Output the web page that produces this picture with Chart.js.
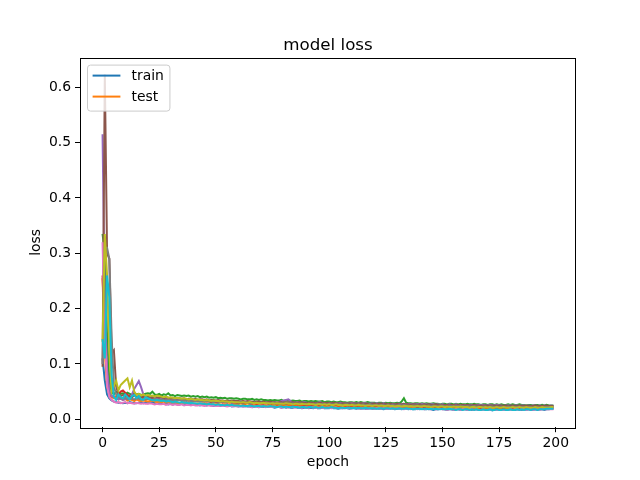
<!DOCTYPE html>
<html>
<head>
<meta charset="utf-8">
<script src="https://cdn.jsdelivr.net/npm/chart.js@4/dist/chart.umd.min.js"></script>
<style>
    html, body { margin: 0; padding: 0; background: #fff; }
    canvas { display: block; }
</style>
</head>
<body>
<canvas id="chartLoss" width="640" height="480"></canvas>
<script>
const epochs = Array.from({ length: 200 }, (_, i) => i);
const xTicks = [0, 25, 50, 75, 100, 125, 150, 175, 200];
const yTicks = [0, 0.1, 0.2, 0.3, 0.4, 0.5, 0.6];
const legendLabels = ["train", "test"];
const colors = ["#1f77b4", "#ff7f0e", "#2ca02c", "#d62728", "#9467bd", "#8c564b", "#e377c2", "#7f7f7f", "#bcbd22", "#17becf"];

/* loss values per run, in thousandths, epochs 0..199 */
const lossBlue = [
    110,70,45,38,34,32,31,30,30,29,30,29,31,30,29,29,30,31,29,30,
    29,30,31,29,28,29,28,28,29,27,28,27,28,27,27,28,26,27,27,26,
    26,27,26,25,26,26,25,26,25,24,25,25,24,25,24,24,25,23,24,24,
    23,24,23,24,23,23,22,23,23,22,23,22,22,23,22,22,21,22,22,21,
    22,21,22,21,21,22,21,21,20,21,21,20,21,20,21,20,20,21,20,20,
    20,21,20,20,19,20,20,21,20,19,20,20,19,20,19,20,19,19,20,19,
    19,20,19,19,18,19,19,20,19,18,19,19,18,19,19,18,19,18,18,19,
    18,19,18,18,19,18,17,18,18,19,18,18,17,18,18,17,18,18,17,18,
    18,17,18,17,18,18,17,17,18,17,17,18,16,17,18,17,17,18,17,17,
    18,17,17,18,17,17,18,17,18,17,17,18,17,18,18,17,18,18,19,19
];
const lossOrange = [
    255,120,60,45,40,38,42,36,38,35,37,34,36,35,33,36,34,33,34,33,
    32,33,34,32,31,32,31,32,30,31,31,30,31,30,29,30,30,29,30,29,
    29,28,29,28,28,29,28,27,28,27,27,28,27,26,27,26,27,26,26,27,
    26,25,26,26,25,26,25,25,26,25,24,25,25,24,25,24,25,24,24,25,
    24,24,25,24,23,24,24,23,24,24,23,24,23,23,24,23,23,24,23,23,
    24,23,23,22,23,23,22,23,23,22,23,22,22,23,22,22,23,22,22,21,
    22,22,21,22,22,21,22,21,22,21,21,22,21,21,22,21,21,20,21,21,
    21,20,21,21,20,21,20,21,20,21,20,20,21,20,20,21,20,20,21,20,
    20,21,20,20,19,20,20,21,20,19,20,20,20,19,20,20,19,20,20,19,
    20,20,19,20,20,19,20,20,19,20,20,19,20,20,19,20,20,20,20,20
];
const lossGreen = [
    335,300,150,70,50,45,50,48,46,47,45,48,46,44,47,45,46,44,45,46,
    47,46,50,45,44,46,43,45,44,47,43,44,42,44,43,42,43,42,43,41,
    42,41,42,40,41,40,41,39,40,39,40,38,39,38,39,37,38,38,37,38,
    37,36,37,37,36,36,37,35,36,35,36,35,35,34,35,34,35,34,34,35,
    33,34,34,33,34,33,33,34,32,33,33,32,33,32,33,32,32,33,31,32,
    32,31,32,31,31,32,31,31,30,31,31,30,31,30,31,30,30,31,30,30,
    30,29,30,30,29,30,29,30,29,29,30,29,32,38,30,29,29,28,29,29,
    28,29,28,29,28,28,29,28,28,27,28,28,27,28,28,27,28,27,28,27,
    27,28,27,27,28,27,27,26,27,27,26,27,27,26,27,26,27,26,26,27,
    26,27,26,26,27,26,26,25,26,26,25,26,26,25,26,25,26,25,25,25
];
const lossRed = [
    260,150,80,50,42,40,38,45,50,52,48,44,42,40,45,41,40,42,39,41,
    40,38,39,37,38,37,38,36,37,36,37,35,36,35,35,36,34,35,34,34,
    33,34,33,33,32,33,32,32,31,32,31,31,32,30,31,30,31,30,30,30,
    29,30,29,29,30,29,28,29,28,29,28,28,29,28,27,28,28,27,28,27,
    27,28,27,27,26,27,27,26,27,26,26,27,26,26,27,26,25,26,26,25,
    26,26,25,26,25,25,26,25,25,24,25,25,24,25,25,24,25,24,24,25,
    24,24,25,24,23,24,24,23,24,24,23,24,23,24,23,23,24,23,23,22,
    23,23,22,23,23,22,23,22,23,22,22,23,22,22,23,22,22,21,22,22,
    21,22,22,21,22,21,22,21,21,22,21,21,22,21,21,21,20,21,21,21,
    21,20,21,21,20,21,21,20,21,20,21,21,20,21,20,21,20,21,21,21
];
const lossPurple = [
    515,200,90,50,42,40,38,36,37,35,36,38,37,45,55,62,69,58,45,40,
    41,39,42,40,38,39,37,39,38,36,38,37,36,37,36,35,36,35,35,36,
    34,35,34,35,34,33,34,33,34,33,33,32,33,32,33,32,32,33,31,32,
    32,31,32,31,31,32,31,30,31,31,30,31,30,31,30,30,31,30,31,33,
    34,35,36,33,31,30,31,30,30,31,30,29,30,30,29,30,31,29,30,29,
    30,29,30,29,29,30,29,29,28,29,30,29,28,29,28,29,29,28,28,29,
    28,29,28,28,29,28,27,28,28,27,28,28,27,28,27,28,27,27,28,27,
    27,28,27,27,26,27,27,26,27,26,27,26,26,27,26,26,27,26,26,25,
    26,26,25,26,26,25,26,25,26,25,25,26,25,25,26,25,25,24,25,25,
    25,24,25,25,24,25,25,24,25,24,25,25,24,25,24,25,24,24,25,24
];
const lossBrown = [
    95,623,300,290,120,125,60,45,42,44,40,42,41,40,43,41,42,40,41,42,
    40,41,39,42,40,39,41,38,40,39,38,39,38,37,38,37,38,36,37,37,
    36,37,35,36,36,35,36,34,35,35,34,35,34,34,33,34,33,34,33,33,
    33,32,33,32,33,32,32,31,32,32,31,32,31,31,32,31,31,30,31,31,
    30,31,31,30,31,30,30,31,30,30,29,30,30,29,30,29,30,29,29,30,
    29,29,30,29,29,28,29,29,28,29,28,29,28,28,29,28,28,28,27,28,
    28,27,28,28,27,28,27,28,27,27,28,27,27,28,27,27,26,27,27,26,
    27,26,27,26,27,26,26,27,26,26,25,26,26,25,26,26,25,26,25,26,
    25,26,25,25,26,25,25,24,25,25,24,25,25,24,25,24,25,24,25,24,
    24,25,24,24,25,24,24,25,24,24,24,25,24,24,24,24,25,24,24,24
];
const lossPink = [
    320,150,60,40,35,32,30,31,29,30,31,29,30,29,28,30,29,28,29,28,
    28,29,28,27,28,27,27,28,26,27,27,26,27,26,26,27,25,26,26,25,
    26,25,25,26,25,24,25,25,24,25,24,24,25,24,24,23,24,24,23,24,
    23,24,23,23,24,23,22,23,23,22,23,23,22,23,22,22,23,22,22,21,
    22,22,21,22,22,21,22,21,21,22,21,21,22,21,21,20,21,21,20,21,
    21,20,21,21,20,21,20,20,21,20,20,21,20,20,19,20,20,19,20,20,
    19,20,20,19,20,19,19,20,19,19,20,19,19,18,19,19,18,19,19,18,
    19,19,18,19,18,18,19,18,18,19,18,18,17,18,18,17,18,18,17,18,
    18,17,18,18,17,18,17,17,18,17,17,18,17,17,17,17,17,17,17,17,
    18,17,18,18,17,18,18,17,18,18,17,18,18,17,18,18,18,18,18,18
];
const lossGray = [
    100,310,310,290,150,60,45,40,38,37,39,36,38,37,36,38,37,36,37,36,
    37,36,35,37,36,35,36,34,35,35,34,35,34,34,35,33,34,33,34,33,
    33,34,33,32,33,32,33,32,32,31,32,32,31,32,31,31,32,30,31,31,
    30,31,30,31,30,30,29,30,30,29,30,29,30,29,29,30,29,28,29,29,
    28,29,29,28,29,28,28,29,28,28,27,28,28,27,28,28,27,28,27,27,
    28,27,27,28,27,27,26,27,27,26,27,27,26,27,26,27,26,26,27,26,
    26,26,25,26,26,25,26,25,26,25,25,26,25,26,25,25,24,25,25,25,
    24,25,25,24,25,24,25,24,24,25,24,24,23,24,24,23,24,24,23,24,
    23,24,23,23,24,23,23,22,23,23,22,23,23,22,23,22,23,22,22,23,
    22,23,22,22,23,22,22,21,22,22,21,22,22,21,22,22,22,22,22,22
];
const lossOlive = [
    140,335,260,120,50,60,70,52,62,66,70,74,58,70,50,44,46,43,45,42,
    44,42,43,41,43,42,41,40,41,39,40,39,38,39,38,37,38,37,36,37,
    36,35,36,35,35,34,35,34,33,34,33,33,32,33,32,32,31,32,31,31,
    31,30,31,30,30,31,30,29,30,29,29,30,29,29,28,29,28,29,28,28,
    28,29,28,28,27,28,28,27,28,27,27,28,27,27,26,27,27,26,27,26,
    27,26,26,27,26,26,25,26,26,25,26,25,25,26,25,25,24,25,25,24,
    25,25,24,25,24,24,25,24,24,23,24,24,23,24,24,23,24,23,23,24,
    23,23,24,23,23,22,23,23,22,23,23,22,23,22,22,23,22,22,23,22,
    22,22,21,22,22,21,22,22,21,22,21,22,21,21,22,21,21,22,21,21,
    21,22,21,21,22,21,21,22,21,21,21,22,21,21,22,21,21,21,22,22
];
const lossCyan = [
    145,110,260,220,80,40,35,45,40,38,45,40,36,42,44,38,42,36,35,40,
    38,36,35,34,35,34,33,34,32,33,32,31,32,31,30,31,30,30,29,30,
    29,29,28,29,28,28,27,28,27,27,26,27,26,26,25,26,25,26,25,25,
    25,24,25,24,24,25,24,23,24,24,23,24,23,23,24,23,23,22,23,23,
    22,23,22,22,23,22,22,21,22,22,21,22,22,21,22,21,21,22,21,21,
    21,22,21,21,20,21,21,20,21,21,20,21,20,21,20,20,21,20,20,20,
    20,19,20,20,19,20,20,19,20,19,19,20,19,19,20,19,19,18,19,19,
    19,18,19,19,18,19,18,19,18,18,19,18,18,19,18,18,17,18,18,17,
    18,18,17,18,17,18,17,17,18,17,17,18,17,17,18,17,17,18,17,17,
    18,17,17,18,17,18,17,18,18,17,18,18,17,18,18,18,19,19,19,19
];

const allRuns = [lossBlue, lossOrange, lossGreen, lossRed, lossPurple, lossBrown, lossPink, lossGray, lossOlive, lossCyan];

const FONT = "'DejaVu Sans', sans-serif";

// frame, title and a matplotlib-style legend box drawn on top of the plot
const decorPlugin = {
    id: "decor",
    afterDraw(chart) {
        const ctx = chart.ctx;
        const area = chart.chartArea;
        ctx.save();

        ctx.strokeStyle = "#000";
        ctx.lineWidth = 1;
        ctx.strokeRect(Math.round(area.left) + 0.5, Math.round(area.top) + 0.5,
            Math.round(area.right - area.left) - 1, Math.round(area.bottom - area.top));

        ctx.fillStyle = "#000";
        ctx.font = `16.7px ${FONT}`;
        ctx.textAlign = "center";
        ctx.textBaseline = "alphabetic";
        ctx.fillText("model loss", (area.left + area.right) / 2, 50);

        // legend
        const bx = area.left + 7, by = area.top + 7;
        ctx.font = `13.9px ${FONT}`;
        const textW = Math.max(...legendLabels.map(t => ctx.measureText(t).width));
        const bw = 5.6 + 27.8 + 11.1 + textW + 5.6;
        const bh = 46;
        ctx.beginPath();
        ctx.roundRect(bx + 0.5, by + 0.5, bw, bh, 3);
        ctx.fillStyle = "rgba(255,255,255,0.8)";
        ctx.fill();
        ctx.strokeStyle = "#cccccc";
        ctx.lineWidth = 1;
        ctx.stroke();

        legendLabels.forEach((label, i) => {
            const rowY = by + 11 + i * 21;
            ctx.beginPath();
            ctx.moveTo(bx + 5.6, rowY);
            ctx.lineTo(bx + 5.6 + 27.8, rowY);
            ctx.strokeStyle = colors[i];
            ctx.lineWidth = 2;
            ctx.stroke();
            ctx.fillStyle = "#000";
            ctx.textAlign = "left";
            ctx.textBaseline = "middle";
            ctx.fillText(label, bx + 5.6 + 27.8 + 11.1, rowY + 1);
        });
        ctx.restore();
    }
};

Chart.defaults.color = "#000";
Chart.defaults.font.family = FONT;
Chart.defaults.font.size = 13.9;

new Chart(document.getElementById("chartLoss"), {
    type: "line",
    data: {
        datasets: allRuns.map((run, i) => ({
            label: legendLabels[i] ?? `run ${i}`,
            data: run.map((v, k) => ({ x: epochs[k], y: v / 1000 })),
            borderColor: colors[i],
            borderWidth: 2,
            pointRadius: 0,
            tension: 0,
            fill: false,
            order: allRuns.length - i
        }))
    },
    options: {
        responsive: false,
        animation: false,
        layout: {
            padding: { top: 57.6, right: 64, bottom: 0, left: 0 }
        },
        plugins: {
            legend: { display: false },
            title: { display: false },
            tooltip: { enabled: false }
        },
        scales: {
            x: {
                type: "linear",
                min: -9.95,
                max: 208.95,
                afterFit: scale => { scale.height = 52.8; },
                afterBuildTicks: scale => { scale.ticks = xTicks.map(v => ({ value: v })); },
                grid: { drawOnChartArea: false, drawTicks: true, tickLength: 5, color: "#000", lineWidth: 1 },
                border: { display: false },
                ticks: { padding: 3, maxRotation: 0, autoSkip: false, callback: v => String(v) },
                title: { display: true, text: "epoch", padding: { top: 0, bottom: 9 } }
            },
            y: {
                min: -0.0143,
                max: 0.6537,
                afterFit: scale => { scale.width = 80; },
                afterBuildTicks: scale => { scale.ticks = yTicks.map(v => ({ value: v })); },
                grid: { drawOnChartArea: false, drawTicks: true, tickLength: 5, color: "#000", lineWidth: 1 },
                border: { display: false },
                ticks: { padding: 4, autoSkip: false, callback: v => Number(v).toFixed(1) },
                title: { display: true, text: "loss", padding: { top: 28, bottom: 0 } }
            }
        }
    },
    plugins: [decorPlugin]
});
</script>
</body>
</html>
